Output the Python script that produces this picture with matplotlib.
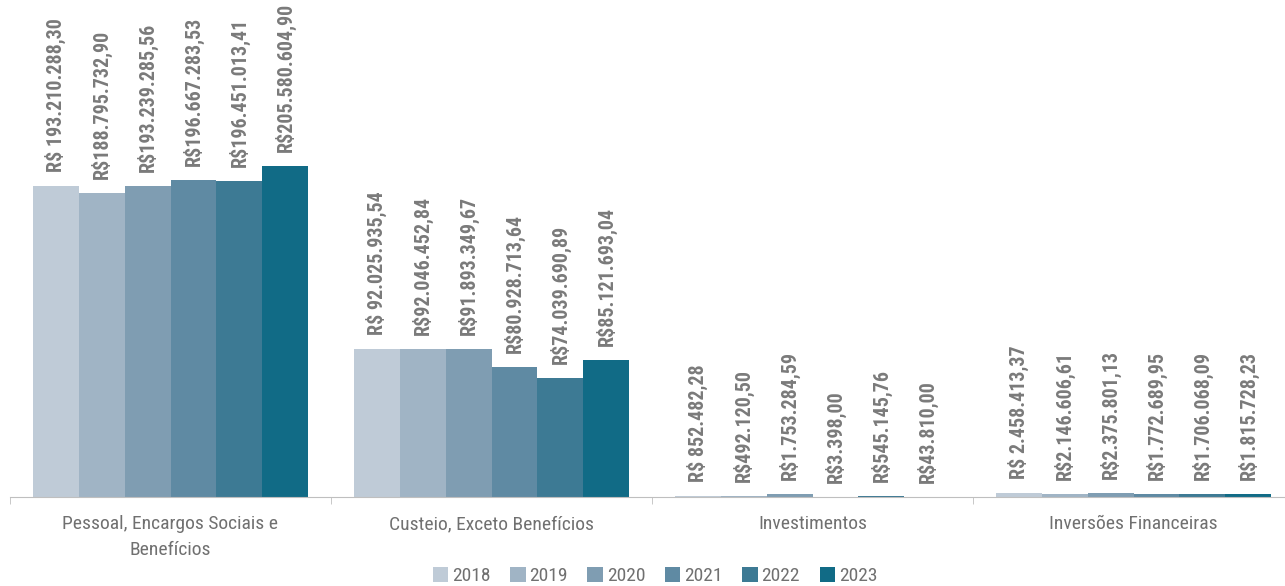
import matplotlib
matplotlib.use('Agg')
import matplotlib.pyplot as plt
from matplotlib import font_manager
import numpy as np

categories = ['Pessoal, Encargos Sociais e\nBenefícios', 'Custeio, Exceto Benefícios',
              'Investimentos', 'Inversões Financeiras']
years = ['2018', '2019', '2020', '2021', '2022', '2023']

# values in R$
values = {
    '2018': [193210288.30, 92025935.54, 852482.28, 2458413.37],
    '2019': [188795732.90, 92046452.84, 492120.50, 2146606.61],
    '2020': [193239285.56, 91893349.67, 1753284.59, 2375801.13],
    '2021': [196667283.53, 80928713.64, 3398.00, 1772689.95],
    '2022': [196451013.41, 74039690.89, 545145.76, 1706068.09],
    '2023': [205580604.90, 85121693.04, 43810.00, 1815728.23],
}
labels = {
    '2018': ['R$ 193.210.288,30', 'R$ 92.025.935,54', 'R$ 852.482,28', 'R$ 2.458.413,37'],
    '2019': ['R$188.795.732,90', 'R$92.046.452,84', 'R$492.120,50', 'R$2.146.606,61'],
    '2020': ['R$193.239.285,56', 'R$91.893.349,67', 'R$1.753.284,59', 'R$2.375.801,13'],
    '2021': ['R$196.667.283,53', 'R$80.928.713,64', 'R$3.398,00', 'R$1.772.689,95'],
    '2022': ['R$196.451.013,41', 'R$74.039.690,89', 'R$545.145,76', 'R$1.706.068,09'],
    '2023': ['R$205.580.604,90', 'R$85.121.693,04', 'R$43.810,00', 'R$1.815.728,23'],
}
colors = ['#bfcbd7', '#a0b4c5', '#7f9db2', '#5f8aa3', '#3d7a94', '#116b86']

# pick a narrow font if one is installed
names = {f.name for f in font_manager.fontManager.ttflist}
condensed = [f for f in font_manager.fontManager.ttflist
             if f.name == 'DejaVu Sans' and f.stretch == 'condensed']
if 'Liberation Sans Narrow' in names:
    fam, stretch, k = 'Liberation Sans Narrow', 'normal', 1.0
elif 'Roboto Condensed' in names:
    fam, stretch, k = 'Roboto Condensed', 'normal', 1.0
elif condensed:
    fam, stretch, k = 'DejaVu Sans', 'condensed', 13 / 15
else:
    fam, stretch, k = 'Roboto', 'normal', 0.82
plt.rcParams['font.family'] = [fam, 'DejaVu Sans']
plt.rcParams['font.stretch'] = stretch

fig = plt.figure(figsize=(12.85, 5.86), dpi=100)
ax = fig.add_axes([10 / 1285, 89 / 586, 1284 / 1285, 497 / 586])

x = np.arange(len(categories))
w = 0.857 / 6
for i, y in enumerate(years):
    pos = x - 0.857 / 2 + w * (i + 0.5)
    ax.bar(pos, values[y], width=w, color=colors[i], label=y)
    for px, v, t in zip(pos, values[y], labels[y]):
        ax.annotate(t, (px, v), xytext=(0, 10), textcoords='offset points',
                    rotation=90, ha='center', va='bottom', fontsize=14.4 * k,
                    fontweight='bold', color='#7a7a7a')

ax.set_xlim(-0.5, 3.5)
ax.set_ylim(0, 497 / 1.61 * 1e6)
for s in ['top', 'right', 'left']:
    ax.spines[s].set_visible(False)
ax.spines['bottom'].set_color('#bfbfbf')
ax.set_yticks([])
ax.set_xticks(x)
ax.set_xticklabels(categories, fontsize=14 * k, color='#707070', linespacing=1.55)
ax.tick_params(axis='x', which='major', length=0, pad=13)
ax.set_xticks(np.arange(-0.5, 4, 1), minor=True)
ax.tick_params(axis='x', which='minor', length=5, color='#bfbfbf')

fig.legend(loc='center', bbox_to_anchor=(655 / 1285, 1 - 576 / 586), ncol=6, frameon=False,
           fontsize=14 * k, labelcolor='#707070', handlelength=0.8, handleheight=0.8,
           handletextpad=0.2, columnspacing=1.0, borderpad=0)

fig.savefig('out.png', dpi=100)
